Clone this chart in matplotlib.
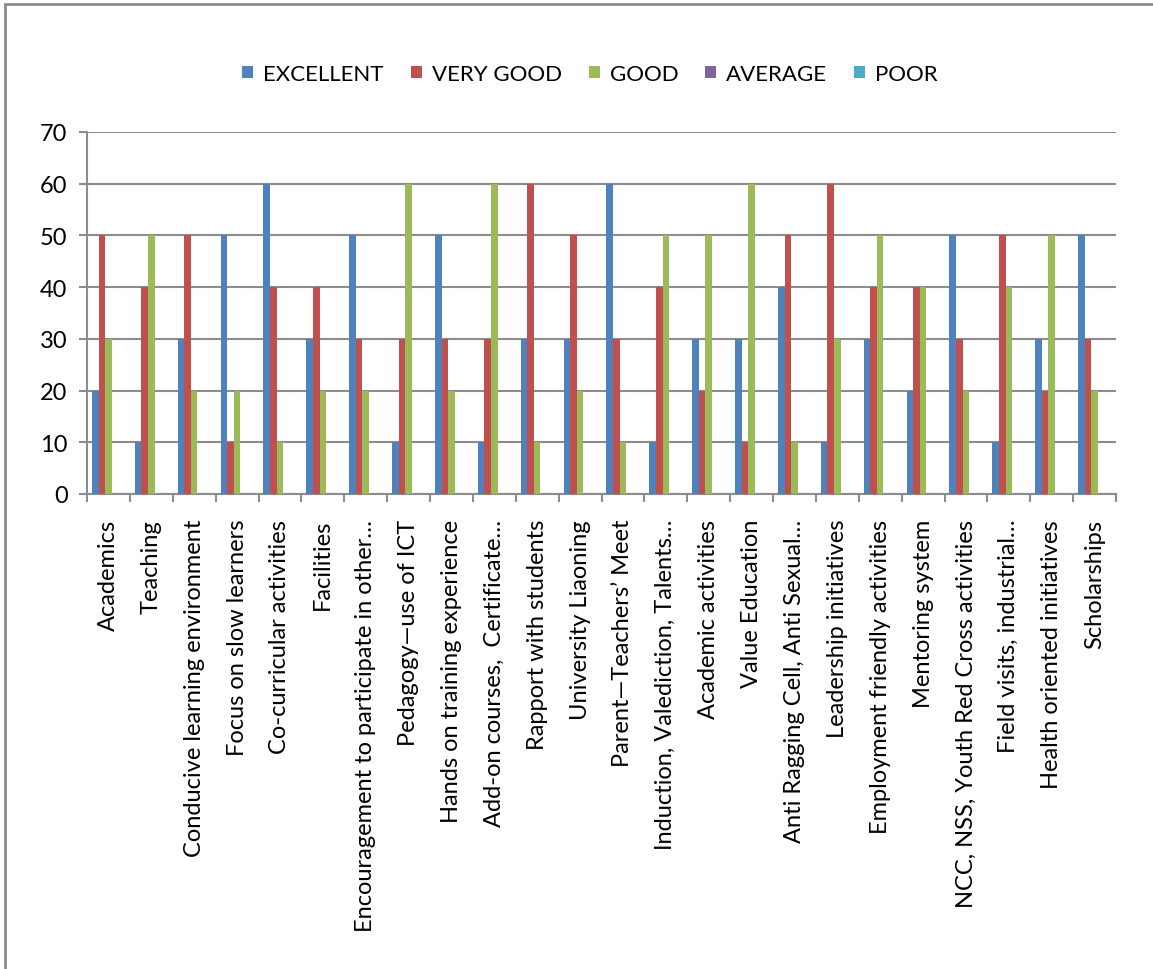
import numpy as np
import matplotlib.pyplot as plt
from matplotlib.patches import Rectangle

plt.rcParams['font.family'] = ['Lato', 'DejaVu Sans']

categories = [
    'Academics', 'Teaching', 'Conducive learning environment',
    'Focus on slow learners', 'Co-curricular activities', 'Facilities',
    'Encouragement to participate in other…', 'Pedagogy—use of ICT',
    'Hands on training experience', 'Add-on courses,  Certificate…',
    'Rapport with students', 'University Liaoning', 'Parent—Teachers\u2019 Meet',
    'Induction, Valediction, Talents…', 'Academic activities', 'Value Education',
    'Anti Ragging Cell, Anti Sexual…', 'Leadership initiatives',
    'Employment friendly activities', 'Mentoring system',
    'NCC, NSS, Youth Red Cross activities', 'Field visits, industrial…',
    'Health oriented initiatives', 'Scholarships',
]
excellent = [20, 10, 30, 50, 60, 30, 50, 10, 50, 10, 30, 30, 60, 10, 30, 30, 40, 10, 30, 20, 50, 10, 30, 50]
very_good = [50, 40, 50, 10, 40, 40, 30, 30, 30, 30, 60, 50, 30, 40, 20, 10, 50, 60, 40, 40, 30, 50, 20, 30]
good = [30, 50, 20, 20, 10, 20, 20, 60, 20, 60, 10, 20, 10, 50, 50, 60, 10, 30, 50, 40, 20, 40, 50, 20]
average = [0] * 24
poor = [0] * 24

series = [('EXCELLENT', excellent, '#4F81BD'),
          ('VERY GOOD', very_good, '#C0504D'),
          ('GOOD', good, '#9BBB59'),
          ('AVERAGE', average, '#8064A2'),
          ('POOR', poor, '#4BACC6')]

W, H = 1153, 970
fig = plt.figure(figsize=(W / 100, H / 100), dpi=100)
ax = fig.add_axes([87 / W, 1 - 495 / H, (1116 - 87) / W, (495 - 133) / H])

x = np.arange(len(categories))
bw = 1 / 6.5
for i, (name, vals, col) in enumerate(series):
    ax.bar(x + (i - 2) * bw, vals, width=bw, color=col, label=name, zorder=3)

ax.set_xlim(-0.5, len(categories) - 0.5)
ax.set_ylim(0, 70)
ax.set_yticks(range(0, 71, 10))
ax.yaxis.grid(True, color='#8c8c8c', linewidth=1.5, zorder=0)
ax.set_xticks(x)
ax.set_xticklabels(categories, rotation=90, fontsize=17)
ax.tick_params(axis='x', length=0, pad=18)
ax.set_xticks(np.arange(-0.5, len(categories), 1), minor=True)
ax.tick_params(axis='x', which='minor', length=6, width=1.5, color='#8c8c8c')
ax.tick_params(axis='y', length=6, width=1.5, color='#8c8c8c', labelsize=17, pad=8)
for s in ['top', 'right']:
    ax.spines[s].set_visible(False)
for s in ['left', 'bottom']:
    ax.spines[s].set_color('#8c8c8c')
    ax.spines[s].set_linewidth(1.5)

fig.legend(loc='center', bbox_to_anchor=(590 / W, 1 - 75 / H), ncol=5,
           frameon=False, fontsize=16, handlelength=0.5, handleheight=0.45,
           handletextpad=0.45, columnspacing=1.2)

fig.patches.append(Rectangle((5 / W, -0.1), 1.2, 1.1 - 5 / H, transform=fig.transFigure,
                             fill=False, edgecolor='#8c8c8c', linewidth=2))

fig.savefig('out.png', dpi=100)
